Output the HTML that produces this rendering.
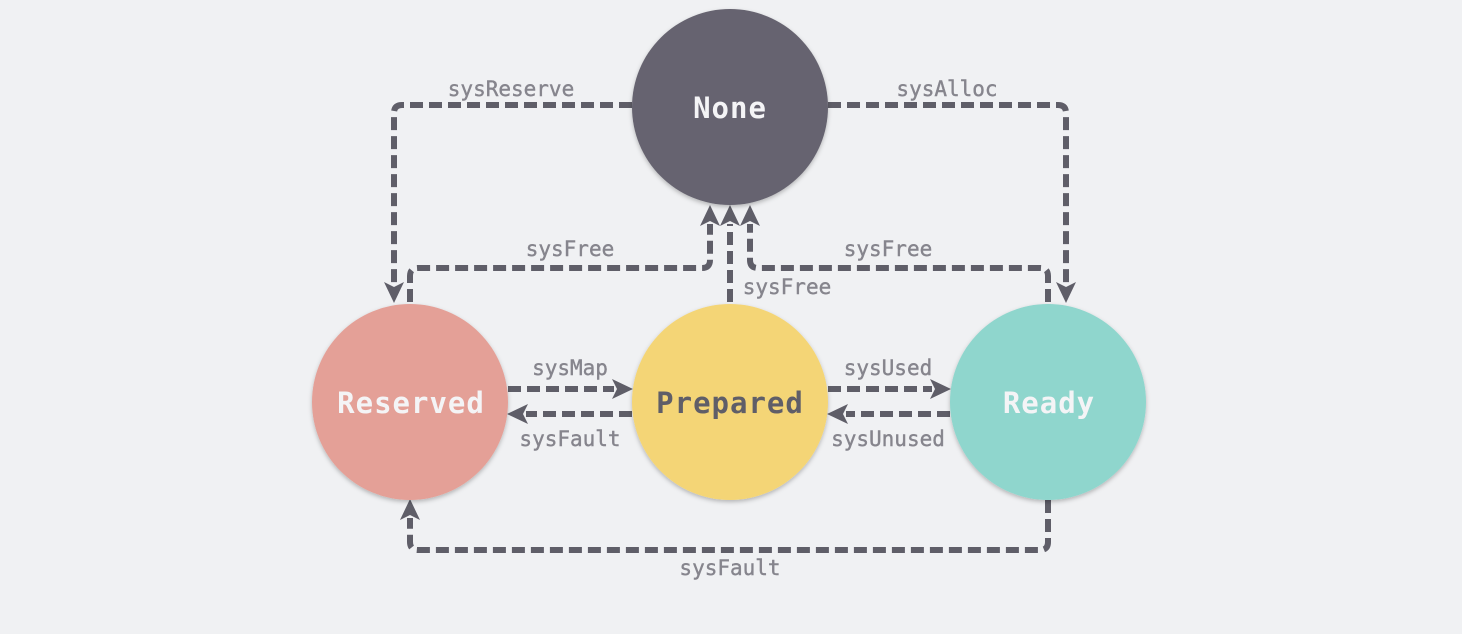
<!DOCTYPE html>
<html><head><meta charset="utf-8"><style>
body{margin:0;background:#f0f1f3;}
svg{display:block}
.l{font-family:"DejaVu Sans Mono","Liberation Mono",monospace;font-size:21px;fill:#86858d;text-anchor:middle;stroke:#86858d;stroke-width:0.4}
.n{font-family:"DejaVu Sans Mono","Liberation Mono",monospace;font-size:29px;font-weight:bold;text-anchor:middle;letter-spacing:1px}
.e{fill:none;stroke:#5f5e68;stroke-width:6;stroke-dasharray:13 6}
</style></head><body>
<svg width="1462" height="634" viewBox="0 0 1462 634">
<defs>
<filter id="s" x="-20%" y="-20%" width="140%" height="140%"><feDropShadow dx="0" dy="2" stdDeviation="2" flood-color="#000" flood-opacity="0.25"/></filter>
</defs>
<rect width="1462" height="634" fill="#f0f1f3"/>
<path class="e" d="M632,105 H402 Q394,105 394,113 V284"/>
<path class="e" d="M828,105 H1058 Q1066,105 1066,113 V284"/>
<path class="e" d="M410,302 V276 Q410,268 418,268 H702 Q710,268 710,260 V224"/>
<path class="e" d="M730,302 V224"/>
<path class="e" d="M1048,302 V276 Q1048,268 1040,268 H758 Q750,268 750,260 V224"/>
<path class="e" d="M508,389 H614"/>
<path class="e" d="M632,414 H526"/>
<path class="e" d="M828,389 H932"/>
<path class="e" d="M950,414 H846"/>
<path class="e" d="M1048,500 V542 Q1048,550 1040,550 H418 Q410,550 410,542 V518"/>
<g fill="#5f5e68">
<polygon points="384,282 394,303 404,282 394,287"/>
<polygon points="1056,282 1066,303 1076,282 1066,287"/>
<polygon points="700,226 710,205 720,226 710,221"/>
<polygon points="720,226 730,205 740,226 730,221"/>
<polygon points="740,226 750,205 760,226 750,221"/>
<polygon points="400,520 410,499 420,520 410,515"/>
<polygon points="612,379 633,389 612,399 617,389"/>
<polygon points="930,379 951,389 930,399 935,389"/>
<polygon points="528,404 507,414 528,424 523,414"/>
<polygon points="848,404 827,414 848,424 843,414"/>
</g>
<circle cx="730" cy="107" r="98" fill="#66646f" filter="url(#s)"/>
<circle cx="410" cy="402" r="98" fill="#e4a097" filter="url(#s)"/>
<circle cx="730" cy="402" r="98" fill="#f4d576" filter="url(#s)"/>
<circle cx="1048" cy="402" r="98" fill="#8fd6cd" filter="url(#s)"/>
<text class="n" x="730" y="118" fill="#f4f4f6">None</text>
<text class="n" x="411" y="413" fill="#f4f4f6">Reserved</text>
<text class="n" x="730" y="413" fill="#5f5e68">Prepared</text>
<text class="n" x="1049" y="413" fill="#f4f4f6">Ready</text>
<text class="l" x="511" y="96">sysReserve</text>
<text class="l" x="947" y="96">sysAlloc</text>
<text class="l" x="570" y="256">sysFree</text>
<text class="l" x="888" y="256">sysFree</text>
<text class="l" x="787" y="294">sysFree</text>
<text class="l" x="570" y="375">sysMap</text>
<text class="l" x="570" y="446">sysFault</text>
<text class="l" x="888" y="375">sysUsed</text>
<text class="l" x="888" y="446">sysUnused</text>
<text class="l" x="730" y="575">sysFault</text>
</svg>
</body></html>
